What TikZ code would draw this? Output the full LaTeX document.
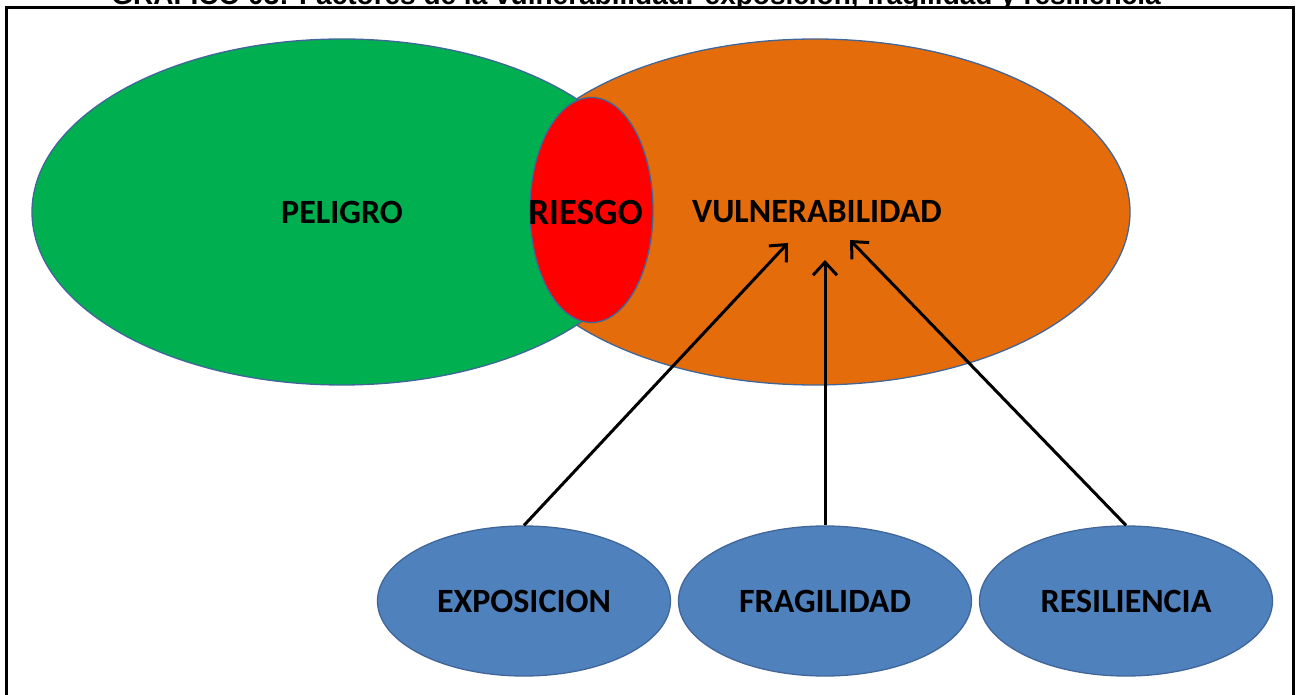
\documentclass[tikz,border=0pt]{standalone}
\usepackage{fontspec}
\setmainfont{Carlito}
\newfontfamily\titlefont{Liberation Sans}
\usetikzlibrary{positioning,arrows.meta,shapes.geometric}
\definecolor{peligrogreen}{HTML}{00B050}
\definecolor{vulnorange}{HTML}{E46C0A}
\definecolor{riesgored}{HTML}{FF0000}
\definecolor{factorblue}{HTML}{4F81BD}
\definecolor{edgeblue}{HTML}{41669A}

\begin{document}
\begin{tikzpicture}[x=1pt,y=-1pt,
    zone/.style={ellipse,draw=edgeblue,line width=1.3pt,inner sep=0pt,minimum height=346pt,font=\fontsize{34}{40}\selectfont\bfseries},
    core/.style={ellipse,draw=edgeblue,line width=1.3pt,inner sep=0pt,fill=riesgored,minimum width=123pt,minimum height=225pt},
    factor/.style={ellipse,draw=edgeblue,line width=1.3pt,inner sep=0pt,fill=factorblue,minimum width=293pt,minimum height=150pt,font=\fontsize{34}{40}\selectfont\bfseries},
    arrow/.style={-{Straight Barb[length=13pt,width=24pt]},line width=3pt}]

\useasboundingbox (0,0) rectangle (1302,695);
\clip (0,0) rectangle (1302,695);

% title and frame
\node[anchor=base,font=\titlefont\bfseries\fontsize{28}{32}\selectfont] (title) at (636,5) {GRÁFICO 03: Factores de la vulnerabilidad: exposición, fragilidad y resiliencia};
\draw[line width=3pt,fill=white] (6,8) rectangle (1293,720);

% main zones
\node[zone,fill=vulnorange,minimum width=630pt] (vuln) at (815,212) {\hspace*{4pt}VULNERABILIDAD};
\node[zone,fill=peligrogreen,minimum width=620pt] (peligro) at (342,212) {PELIGRO};
\node[core,label={[font=\fontsize{37}{44}\selectfont\bfseries,yshift=-2.5pt]center:\hspace*{-12pt}RIESGO}] (riesgo) at (591.5,210) {};

% factors
\node[factor] (expo) at (524,601) {EXPOSICION};
\node[factor] (frag) at (825,601) {FRAGILIDAD};
\node[factor] (resi) at (1126,601) {RESILIENCIA};

\coordinate (expoend) at (788,243);
\coordinate (fragend) at (825,260);
\coordinate (resiend) at (850,240);

\draw[arrow] (expo.north) -- (expoend);
\draw[arrow] (frag.north) -- (fragend);
\draw[arrow] (resi.north) -- (resiend);

\end{tikzpicture}
\end{document}
